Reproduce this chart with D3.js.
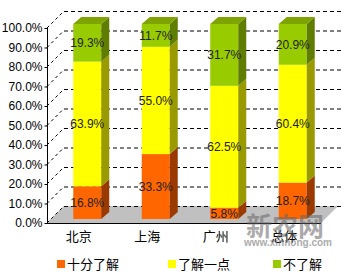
<!DOCTYPE html>
<html>
<head>
<meta charset="utf-8">
<script src="https://cdn.jsdelivr.net/npm/d3@7"></script>
<style>
  body { margin: 0; background: #fff; }
  svg { display: block; font-family: "Liberation Sans", Arial, sans-serif; }
</style>
</head>
<body>
<svg id="chart" width="360" height="275"></svg>
<script>
// data
let cities = ["北京", "上海", "广州", "总体"];
let seriesNames = ["十分了解", "了解一点", "不了解"];
let veryWell = [16.8, 33.3, 5.8, 18.7];
let aLittle = [63.9, 55.0, 62.5, 60.4];
let notAtAll = [19.3, 11.7, 31.7, 20.9];
let yTicks = [0, 10, 20, 30, 40, 50, 60, 70, 80, 90, 100];

let seriesValues = [veryWell, aLittle, notAtAll];
let frontColors = ["#FF6600", "#FFFF00", "#99CC00"];
let sideColors = ["#9A3A00", "#999900", "#5F7D00"];
let topColors = ["#CC5200", "#CCCC00", "#7FA300"];

let svg = d3.select("#chart");
let depth = 17;          // wall depth
let barDepth = {x: 8, y: 7};
let barShift = {x: 6, y: -4};
let barWidth = 28;

let x = d3.scaleBand().domain(cities).range([47, 321]);
let y = d3.scaleLinear().domain([0, 100]).range([223, 28]);

// floor
svg.append("polygon")
    .attr("points", [[x.range()[0], y(0)], [x.range()[1], y(0)],
        [x.range()[1] + depth, y(0) - depth], [x.range()[0] + depth, y(0) - depth]].join(" "))
    .attr("fill", "#C0C0C0");

// back wall grid lines and side wall diagonals
yTicks.forEach(function(t) {
    svg.append("line")
        .attr("x1", x.range()[0] + depth).attr("x2", x.range()[1] + depth + 4)
        .attr("y1", y(t) - depth + 0.5).attr("y2", y(t) - depth + 0.5)
        .attr("stroke", "#000").attr("stroke-dasharray", "4,3");
    svg.append("line")
        .attr("x1", x.range()[0]).attr("y1", y(t))
        .attr("x2", x.range()[0] + depth).attr("y2", y(t) - depth)
        .attr("stroke", "#000").attr("stroke-dasharray", "3,3");
});

// axes
let yAxis = d3.axisLeft(y).tickValues(yTicks).tickSize(3).tickPadding(2)
    .tickFormat(d => d.toFixed(1) + "%");
let gy = svg.append("g").attr("transform", "translate(" + (x.range()[0] + 0.5) + ",0)").call(yAxis);
gy.select(".domain").remove();
gy.append("line").attr("y1", y(100)).attr("y2", y(0)).attr("stroke", "#000");
gy.selectAll("text").attr("font-size", "12px").attr("fill", "#000")
    .attr("font-family", "'Liberation Sans', Arial, sans-serif");

svg.append("line")
    .attr("x1", x.range()[0]).attr("x2", x.range()[1])
    .attr("y1", y(0) + 0.5).attr("y2", y(0) + 0.5)
    .attr("stroke", "#000");

svg.selectAll(".cat")
    .data(cities)
    .enter()
    .append("text")
    .attr("class", "cat")
    .attr("x", d => x(d) + x.bandwidth() / 2 - 2.5)
    .attr("y", 241)
    .attr("text-anchor", "middle")
    .attr("font-size", "13px")
    .attr("font-family", "'Noto Sans CJK SC', sans-serif")
    .text(d => d);

// stacked 3d bars
let stack = cities.map(function(c, i) {
    let base = 0;
    return seriesValues.map(function(vals, s) {
        let seg = {city: c, s: s, v: vals[i], y0: base, y1: base + vals[i]};
        base += vals[i];
        return seg;
    });
});

let bars = svg.selectAll(".bar")
    .data(stack)
    .enter()
    .append("g")
    .attr("class", "bar");

bars.each(function(segs) {
    let g = d3.select(this);
    let x0 = x(segs[0].city) + x.bandwidth() / 2 + barShift.x - barWidth / 2;
    let x1 = x0 + barWidth;
    segs.forEach(function(d) {
        let yb = y(d.y0) + barShift.y;
        let yt = y(d.y1) + barShift.y;
        g.append("rect")
            .attr("x", x0).attr("y", yt)
            .attr("width", barWidth).attr("height", yb - yt)
            .attr("fill", frontColors[d.s]);
        g.append("polygon")
            .attr("points", [[x1, yb], [x1, yt], [x1 + barDepth.x, yt - barDepth.y], [x1 + barDepth.x, yb - barDepth.y]].join(" "))
            .attr("fill", sideColors[d.s]);
    });
    let last = segs[segs.length - 1];
    let ytop = y(last.y1) + barShift.y;
    g.append("polygon")
        .attr("points", [[x0, ytop], [x1, ytop], [x1 + barDepth.x, ytop - barDepth.y], [x0 + barDepth.x, ytop - barDepth.y]].join(" "))
        .attr("fill", topColors[last.s]);
    segs.forEach(function(d) {
        g.append("text")
            .attr("x", x0 + barWidth / 2)
            .attr("y", (y(d.y0) + y(d.y1)) / 2 + barShift.y)
            .attr("dy", "0.35em")
            .attr("text-anchor", "middle")
            .attr("font-size", "12px")
            .attr("fill", "#222")
            .text(d.v.toFixed(1) + "%");
    });
});

// watermark
svg.append("text")
    .attr("x", 285).attr("y", 236)
    .attr("text-anchor", "middle")
    .attr("font-size", "26px").attr("font-weight", "bold")
    .attr("font-family", "'Noto Sans CJK SC', sans-serif")
    .attr("fill", "#666").attr("opacity", 0.55)
    .text("新农网");
svg.append("text")
    .attr("x", 288).attr("y", 246)
    .attr("text-anchor", "middle")
    .attr("font-size", "10px").attr("font-weight", "bold")
    .attr("fill", "#666").attr("opacity", 0.55)
    .text("www.xinnong.com");

// legend
let legendX = [57, 168, 273];
let legend = svg.selectAll(".legend")
    .data(seriesNames)
    .enter()
    .append("g")
    .attr("class", "legend")
    .attr("transform", (d, i) => "translate(" + legendX[i] + ",260)");
legend.append("rect")
    .attr("width", 8).attr("height", 8)
    .attr("fill", (d, i) => frontColors[i]);
legend.append("text")
    .attr("x", 10).attr("y", 4)
    .attr("dy", "0.4em")
    .attr("font-size", "13px")
    .attr("font-family", "'Noto Sans CJK SC', sans-serif")
    .text(d => d);
</script>
</body>
</html>
